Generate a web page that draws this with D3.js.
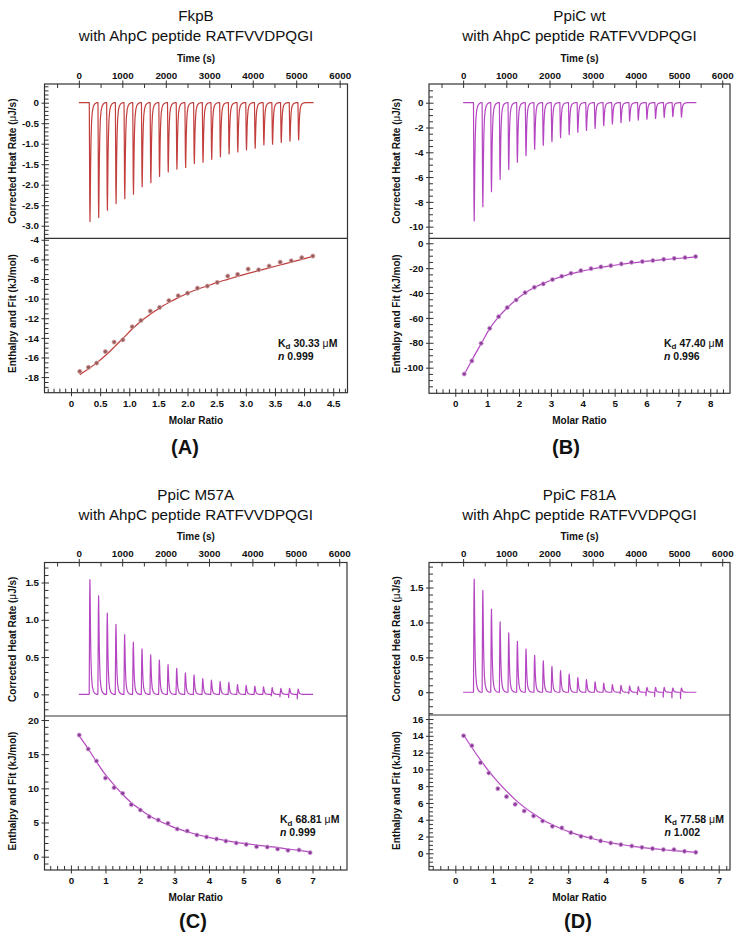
<!DOCTYPE html>
<html><head><meta charset="utf-8">
<script src="https://cdn.jsdelivr.net/npm/d3@7"></script>
<style>
body{margin:0;background:#fff}
svg{display:block}
text{font-family:"Liberation Sans",Arial,Helvetica,sans-serif;fill:#111}
</style>
</head><body>
<svg id="chart" width="743" height="945"></svg>
<script>
// ---------- shared data ----------
const timeTicks = [0, 1000, 2000, 3000, 4000, 5000, 6000];
const injectionTimes = [240, 440, 640, 840, 1040, 1240, 1440, 1640, 1840, 2040, 2240, 2440, 2640,
  2840, 3040, 3240, 3440, 3640, 3840, 4040, 4240, 4440, 4640, 4840, 5040];
const baselineEnd = 5400;
// shape of one injection peak: [seconds after injection, fraction of peak]
const injectionProfile = [[0, 0], [5, 0.35], [11, 0.85], [17, 1], [23, 0.82], [31, 0.52], [41, 0.3],
  [54, 0.15], [72, 0.07], [95, 0.03], [125, 0.01], [165, 0]];

// ---------- Panel A: FkpB ----------
const peaksA = [-2.90, -2.80, -2.62, -2.46, -2.34, -2.23, -2.05, -1.95, -1.80, -1.69, -1.62, -1.58, -1.48,
  -1.45, -1.38, -1.32, -1.25, -1.20, -1.15, -1.11, -1.03, -1.01, -0.97, -0.94, -0.91];
const ratioA = [0.15, 0.30, 0.44, 0.59, 0.74, 0.89, 1.05, 1.20, 1.36, 1.52, 1.68, 1.84, 2.00, 2.17, 2.34,
  2.51, 2.69, 2.86, 3.04, 3.22, 3.40, 3.59, 3.78, 3.96, 4.15];
const enthalpyA = [-17.42, -17.0, -16.57, -15.4, -14.43, -14.2, -12.87, -12.22, -11.27, -10.9, -10.2, -9.71,
  -9.44, -8.93, -8.72, -8.35, -7.70, -7.53, -6.99, -7.06, -6.68, -6.28, -6.14, -5.83, -5.66];
const fitA = [-17.76, -17.15, -16.55, -15.8, -14.95, -14.05, -13.1, -12.3, -11.6, -10.95, -10.4, -9.9,
  -9.45, -9.05, -8.7, -8.35, -8.03, -7.73, -7.43, -7.14, -6.86, -6.57, -6.28, -6.0, -5.7];
const heatTicksA = [0, -0.5, -1.0, -1.5, -2.0, -2.5, -3.0];
const enthTicksA = [-4, -6, -8, -10, -12, -14, -16, -18];
const ratioTicksA = [0, 0.5, 1.0, 1.5, 2.0, 2.5, 3.0, 3.5, 4.0, 4.5];

// ---------- Panel B: PpiC wt ----------
const peaksB = [-9.54, -8.39, -7.18, -6.18, -5.38, -4.81, -4.27, -3.76, -3.44, -3.15, -2.82, -2.58, -2.39,
  -2.23, -2.07, -1.85, -1.72, -1.61, -1.48, -1.40, -1.32, -1.26, -1.18, -1.13, -1.16];
const ratioB = [0.28, 0.52, 0.81, 1.08, 1.36, 1.63, 1.91, 2.19, 2.48, 2.76, 3.05, 3.34, 3.63, 3.94, 4.26,
  4.57, 4.88, 5.21, 5.53, 5.87, 6.20, 6.54, 6.87, 7.21, 7.54];
const enthalpyB = [-105.1, -94.6, -80.4, -68.4, -59.0, -51.7, -45.6, -39.7, -35.4, -32.7, -29.2, -26.5,
  -24.1, -22.0, -20.4, -19.0, -18.0, -16.6, -15.3, -14.7, -13.9, -12.9, -12.1, -11.5, -10.7];
const fitB = [-105.5, -94.0, -80.8, -68.6, -59.2, -51.8, -45.4, -40.0, -35.6, -32.2, -29.3, -26.8, -24.6,
  -22.6, -20.9, -19.4, -18.1, -16.9, -15.8, -14.8, -13.9, -13.1, -12.4, -11.7, -11.0];
const heatTicksB = [0, -2, -4, -6, -8, -10];
const enthTicksB = [0, -20, -40, -60, -80, -100];
const ratioTicksB = [0, 1, 2, 3, 4, 5, 6, 7, 8];

// ---------- Panel C: PpiC M57A ----------
const peaksC = [1.54, 1.32, 1.09, 0.94, 0.80, 0.70, 0.61, 0.53, 0.46, 0.40, 0.35, 0.29, 0.26, 0.21, 0.19,
  0.17, 0.16, 0.13, 0.12, 0.11, 0.10, 0.09, 0.08, 0.08, 0.07];
const dipsC = [0, 0, 0, 0, 0, 0, 0, 0, 0, 0, 0, 0, 0, 0, 0, 0, 0, 0, 0, 0, 0, -0.02, -0.03, -0.04, -0.06];
const ratioC = [0.24, 0.50, 0.74, 1.00, 1.25, 1.50, 1.75, 2.01, 2.27, 2.53, 2.81, 3.08, 3.37, 3.65, 3.93,
  4.22, 4.49, 4.79, 5.08, 5.38, 5.69, 5.99, 6.29, 6.61, 6.93];
const enthalpyC = [17.80, 15.76, 14.0, 11.51, 10.1, 9.27, 7.61, 6.83, 5.85, 5.37, 4.88, 4.05, 3.76, 3.17,
  2.88, 2.59, 2.29, 2.0, 1.80, 1.46, 1.41, 1.12, 0.93, 0.98, 0.59];
const fitC = [17.7, 15.8, 13.9, 12.0, 10.5, 9.1, 7.9, 6.9, 6.0, 5.3, 4.65, 4.1, 3.65, 3.25, 2.9, 2.6, 2.35,
  2.1, 1.9, 1.7, 1.5, 1.33, 1.12, 0.92, 0.7];
const heatTicksC = [0, 0.5, 1.0, 1.5];
const enthTicksC = [0, 5, 10, 15, 20];
const ratioTicksC = [0, 1, 2, 3, 4, 5, 6, 7];

// ---------- Panel D: PpiC F81A ----------
const peaksD = [1.62, 1.46, 1.19, 1.01, 0.85, 0.73, 0.62, 0.53, 0.45, 0.37, 0.31, 0.26, 0.21, 0.18, 0.15,
  0.13, 0.11, 0.10, 0.09, 0.08, 0.07, 0.07, 0.07, 0.06, 0.06];
const dipsD = [0, 0, 0, 0, 0, 0, 0, 0, 0, 0, 0, 0, 0, 0, 0, 0, 0, -0.02, -0.02, -0.03, -0.05, -0.06, -0.07,
  -0.08, -0.09];
const ratioD = [0.22, 0.44, 0.67, 0.89, 1.13, 1.36, 1.59, 1.83, 2.08, 2.32, 2.58, 2.83, 3.07, 3.34, 3.60,
  3.86, 4.13, 4.40, 4.69, 4.96, 5.24, 5.53, 5.81, 6.09, 6.39];
const enthalpyD = [14.01, 12.82, 10.80, 9.57, 7.70, 6.75, 5.84, 5.04, 4.45, 3.85, 3.22, 3.02, 2.46, 2.02,
  1.87, 1.47, 1.23, 1.03, 0.87, 0.71, 0.56, 0.44, 0.44, 0.24, 0.12];
const fitD = [14.1, 12.6, 11.1, 9.8, 8.5, 7.4, 6.4, 5.5, 4.7, 4.0, 3.4, 2.9, 2.5, 2.1, 1.8, 1.5, 1.25,
  1.05, 0.85, 0.7, 0.55, 0.42, 0.32, 0.22, 0.12];
const heatTicksD = [0, 0.5, 1.0, 1.5];
const enthTicksD = [0, 2, 4, 6, 8, 10, 12, 14, 16];
const ratioTicksD = [0, 1, 2, 3, 4, 5, 6, 7];

// ---------- text ----------
const proteins = ["FkpB", "PpiC wt", "PpiC M57A", "PpiC F81A"];
const subtitle = "with AhpC peptide RATFVVDPQGI";
const kdValues = ["30.33", "47.40", "68.81", "77.58"];
const nValues = ["0.999", "0.996", "0.999", "1.002"];
const panelLabels = ["(A)", "(B)", "(C)", "(D)"];

// ---------- layout ----------
const red = {line: "#c23f3d", dotFill: "#9a5a5a", dotStroke: "#d2a6a6"};
const purple = {line: "#b546c2", dotFill: "#8d3b9a", dotStroke: "#d6a3dc"};

const panels = [
  {L: 44.5, R: 347.5, T: 84, D: 238.3, B: 392.7, labelX: 185, labelY: 454, kdX: 278, kdY: 346.5,
    heatDom: [0.456, -3.307], enthDom: [-3.85, -19.59], ratioDom: [-0.455, 4.745],
    heatMinor: 0.1, enthMinor: 0.5, ratioMinor: 0.1, heatFmt: ".1f",
    peaks: peaksA, dips: null, ratio: ratioA, enth: enthalpyA, fit: fitA,
    heatTicks: heatTicksA, enthTicks: enthTicksA, ratioTicks: ratioTicksA, ratioFmt: ".1f", col: red},
  {L: 429, R: 730, T: 84, D: 238.3, B: 393.3, labelX: 566, labelY: 454, kdX: 664, kdY: 346.5,
    heatDom: [1.51, -10.94], enthDom: [4.0, -120.6], ratioDom: [-0.825, 8.62],
    heatMinor: 0.5, enthMinor: 5, ratioMinor: 0.2, heatFmt: "d",
    peaks: peaksB, dips: null, ratio: ratioB, enth: enthalpyB, fit: fitB,
    heatTicks: heatTicksB, enthTicks: enthTicksB, ratioTicks: ratioTicksB, ratioFmt: "d", col: purple},
  {L: 44.5, R: 347, T: 562.5, D: 716, B: 870, labelX: 193, labelY: 928, kdX: 280, kdY: 823,
    heatDom: [1.768, -0.29], enthDom: [20.59, -1.95], ratioDom: [-0.766, 8.0],
    heatMinor: 0.1, enthMinor: 1, ratioMinor: 0.2, heatFmt: ".1f",
    peaks: peaksC, dips: dipsC, ratio: ratioC, enth: enthalpyC, fit: fitC,
    heatTicks: heatTicksC, enthTicks: enthTicksC, ratioTicks: ratioTicksC, ratioFmt: "d", col: purple},
  {L: 429, R: 730, T: 562.5, D: 715, B: 870, labelX: 578, labelY: 928, kdX: 664.5, kdY: 822.5,
    heatDom: [1.859, -0.326], enthDom: [16.48, -1.99], ratioDom: [-0.70, 7.30],
    heatMinor: 0.1, enthMinor: 0.5, ratioMinor: 0.2, heatFmt: ".1f",
    peaks: peaksD, dips: dipsD, ratio: ratioD, enth: enthalpyD, fit: fitD,
    heatTicks: heatTicksD, enthTicks: enthTicksD, ratioTicks: ratioTicksD, ratioFmt: "d", col: purple}
];
const timeDomain = [-790, 6180];

const svg = d3.select("#chart");

function fmtMaker(spec) {
  const f = d3.format(spec);
  return v => (Math.abs(v) < 1e-9 ? "0" : f(v).replace("\u2212", "-"));
}
function minorTicks(dom, step, majors) {
  const lo = Math.min(dom[0], dom[1]), hi = Math.max(dom[0], dom[1]);
  const out = [];
  for (let k = Math.ceil(lo / step - 1e-6); k * step <= hi + 1e-9; k++) {
    const v = +(k * step).toFixed(6);
    if (!majors.some(m => Math.abs(m - v) < 1e-6)) out.push(v);
  }
  return out;
}
function styleAxis(sel) {
  sel.select(".domain").remove();
  sel.selectAll("line").attr("stroke", "#333").attr("stroke-width", 1);
  sel.selectAll("text").attr("font-size", "9.8px").attr("font-weight", "bold")
     .attr("fill", "#111").attr("font-family", '"Liberation Sans", Arial, sans-serif');
}

panels.forEach((p, idx) => {
  const g = svg.append("g");
  const xT = d3.scaleLinear().domain(timeDomain).range([p.L, p.R]);
  const yH = d3.scaleLinear().domain(p.heatDom).range([p.T, p.D]);
  const xR = d3.scaleLinear().domain(p.ratioDom).range([p.L, p.R]);
  const yE = d3.scaleLinear().domain(p.enthDom).range([p.D, p.B]);
  const cx = (p.L + p.R) / 2;

  // titles
  g.append("text").attr("x", cx).attr("y", p.T - 63).attr("text-anchor", "middle")
    .attr("font-size", "15.2px").text(proteins[idx]);
  g.append("text").attr("x", cx).attr("y", p.T - 43).attr("text-anchor", "middle")
    .attr("font-size", "15.2px").text(subtitle);
  g.append("text").attr("x", cx).attr("y", p.T - 22.5).attr("text-anchor", "middle")
    .attr("font-size", "10px").attr("font-weight", "bold").text("Time (s)");

  // thermogram
  const pts = [[0, 0]];
  injectionTimes.forEach((t, i) => {
    if (p.dips && p.dips[i]) { pts.push([t - 10, 0], [t - 5, p.dips[i]], [t - 1, 0]); }
    injectionProfile.forEach(([dt, f]) => pts.push([t + dt, p.peaks[i] * f]));
  });
  pts.push([baselineEnd, 0]);
  g.append("path").attr("d", d3.line().x(d => xT(d[0])).y(d => yH(d[1]))(pts))
    .attr("fill", "none").attr("stroke", p.col.line).attr("stroke-width", 1.2)
    .attr("stroke-linejoin", "round");

  // fit line
  const fitPts = p.ratio.map((r, i) => [r, p.fit[i]]);
  g.append("path").attr("d", d3.line().curve(d3.curveMonotoneX)
      .x(d => xR(d[0])).y(d => yE(d[1]))(fitPts))
    .attr("fill", "none").attr("stroke", p.col.line).attr("stroke-width", 1.2);

  // data points
  g.selectAll("circle.pt").data(p.ratio.map((r, i) => [r, p.enth[i]])).enter().append("circle")
    .attr("cx", d => xR(d[0])).attr("cy", d => yE(d[1])).attr("r", 2.1)
    .attr("fill", p.col.dotFill).attr("stroke", p.col.dotStroke).attr("stroke-width", 0.8);

  // frame and divider
  g.append("rect").attr("x", p.L).attr("y", p.T).attr("width", p.R - p.L).attr("height", p.B - p.T)
    .attr("fill", "none").attr("stroke", "#333").attr("stroke-width", 1.2);
  g.append("line").attr("x1", p.L).attr("x2", p.R).attr("y1", p.D).attr("y2", p.D)
    .attr("stroke", "#333").attr("stroke-width", 1.2);

  // top time axis
  const tMaj = g.append("g").attr("transform", `translate(0,${p.T})`)
    .call(d3.axisTop(xT).tickValues(timeTicks).tickSize(3.5).tickPadding(1.8).tickFormat(d3.format("d")));
  tMaj.selectAll(".tick line").attr("y1", 4);
  styleAxis(tMaj);
  const tMin = g.append("g").attr("transform", `translate(0,${p.T})`)
    .call(d3.axisTop(xT).tickValues(minorTicks(timeDomain, 500, timeTicks)).tickSize(-4).tickFormat(""));
  styleAxis(tMin);

  // left heat axis
  const hMaj = g.append("g").attr("transform", `translate(${p.L},0)`)
    .call(d3.axisLeft(yH).tickValues(p.heatTicks).tickSize(3).tickPadding(2.5).tickFormat(fmtMaker(p.heatFmt)));
  hMaj.selectAll(".tick line").attr("x1", 4.5);
  styleAxis(hMaj);
  const hMin = g.append("g").attr("transform", `translate(${p.L},0)`)
    .call(d3.axisLeft(yH).tickValues(minorTicks(p.heatDom, p.heatMinor, p.heatTicks)
      .filter(v => yH(v) > p.T + 1 && yH(v) < p.D - 1)).tickSize(-4).tickFormat(""));
  styleAxis(hMin);

  // left enthalpy axis
  const eMaj = g.append("g").attr("transform", `translate(${p.L},0)`)
    .call(d3.axisLeft(yE).tickValues(p.enthTicks).tickSize(3).tickPadding(2.5).tickFormat(fmtMaker("d")));
  eMaj.selectAll(".tick line").attr("x1", 4.5);
  styleAxis(eMaj);
  const eMin = g.append("g").attr("transform", `translate(${p.L},0)`)
    .call(d3.axisLeft(yE).tickValues(minorTicks(p.enthDom, p.enthMinor, p.enthTicks)
      .filter(v => yE(v) > p.D + 1 && yE(v) < p.B - 1)).tickSize(-4).tickFormat(""));
  styleAxis(eMin);

  // bottom molar ratio axis
  const rMaj = g.append("g").attr("transform", `translate(0,${p.B})`)
    .call(d3.axisBottom(xR).tickValues(p.ratioTicks).tickSize(3.5).tickPadding(3.5).tickFormat(fmtMaker(p.ratioFmt)));
  rMaj.selectAll(".tick line").attr("y1", -4.5);
  styleAxis(rMaj);
  const rMin = g.append("g").attr("transform", `translate(0,${p.B})`)
    .call(d3.axisBottom(xR).tickValues(minorTicks(p.ratioDom, p.ratioMinor, p.ratioTicks)
      .filter(v => xR(v) > p.L + 1 && xR(v) < p.R - 1)).tickSize(-4).tickFormat(""));
  styleAxis(rMin);

  // axis titles
  g.append("text").attr("x", cx).attr("y", p.B + 31).attr("text-anchor", "middle")
    .attr("font-size", "10px").attr("font-weight", "bold").text("Molar Ratio");
  const yl1 = g.append("text").attr("transform", `translate(${p.L - 29},${(p.T + p.D) / 2}) rotate(-90)`)
    .attr("text-anchor", "middle").attr("font-size", "10px").attr("font-weight", "bold");
  yl1.append("tspan").text("Corrected Heat Rate (");
  yl1.append("tspan").attr("font-weight", "normal").text("\u03bc");
  yl1.append("tspan").text("J/s)");
  g.append("text").attr("transform", `translate(${p.L - 29},${(p.D + p.B) / 2 - 2}) rotate(-90)`)
    .attr("text-anchor", "middle").attr("font-size", "10px").attr("font-weight", "bold")
    .text("Enthalpy and Fit (kJ/mol)");

  // Kd / n annotation
  const kd = g.append("text").attr("x", p.kdX).attr("y", p.kdY)
    .attr("font-size", "10.5px").attr("font-weight", "bold");
  kd.append("tspan").text("K");
  kd.append("tspan").attr("dy", 2.5).attr("font-size", "8px").text("d");
  kd.append("tspan").attr("dy", -2.5).text(" " + kdValues[idx] + " ");
  kd.append("tspan").attr("font-weight", "normal").text("\u03bc");
  kd.append("tspan").text("M");
  const nt = g.append("text").attr("x", p.kdX).attr("y", p.kdY + 13)
    .attr("font-size", "10.5px").attr("font-weight", "bold");
  nt.append("tspan").attr("font-style", "italic").text("n");
  nt.append("tspan").text(" " + nValues[idx]);

  // panel label
  g.append("text").attr("x", p.labelX).attr("y", p.labelY).attr("text-anchor", "middle")
    .attr("font-size", "20px").attr("font-weight", "bold").text(panelLabels[idx]);
});
</script>
</body></html>
